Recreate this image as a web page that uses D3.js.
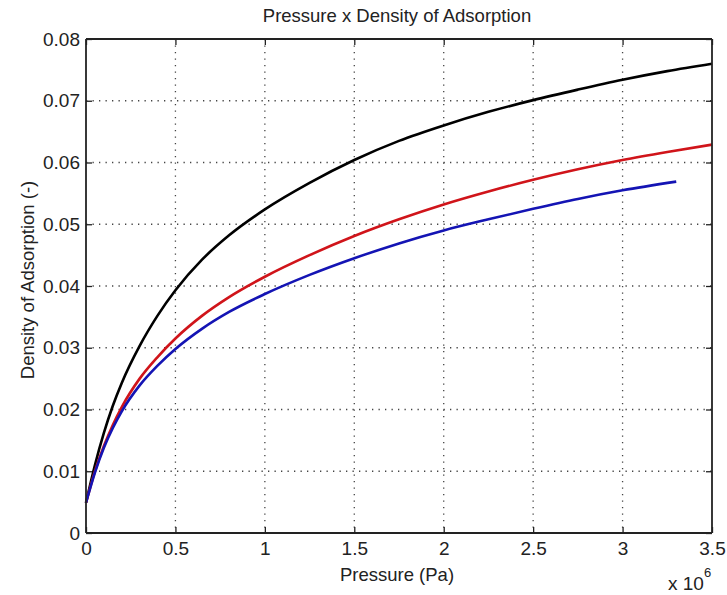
<!DOCTYPE html>
<html><head><meta charset="utf-8">
<script src="https://cdn.jsdelivr.net/npm/d3@7"></script>
<style>body{margin:0;background:#fff;} text{font-family:"Liberation Sans",Arial,sans-serif;fill:#222;}</style>
</head><body><svg id="c" width="727" height="595"></svg>
<script>
const xTicks = [0,0.5,1,1.5,2,2.5,3,3.5];
const yTicks = [0,0.01,0.02,0.03,0.04,0.05,0.06,0.07,0.08];
const pBlack = [0,0.05,0.1,0.15,0.2,0.3,0.4,0.5,0.65,0.8,1.0,1.25,1.5,1.75,2.0,2.25,2.5,2.75,3.0,3.25,3.5];
const vBlack = [0.0049,0.0110,0.0162,0.0206,0.0243,0.0303,0.0352,0.0393,0.0443,0.0482,0.0524,0.0567,0.0604,0.0635,0.0660,0.0682,0.0701,0.0718,0.0734,0.0748,0.0760];
const pRed = [0,0.05,0.1,0.15,0.2,0.3,0.4,0.5,0.65,0.8,1.0,1.25,1.5,1.75,2.0,2.25,2.5,2.75,3.0,3.25,3.5];
const vRed = [0.0049,0.0100,0.0141,0.0175,0.0204,0.0250,0.0285,0.0315,0.0352,0.0382,0.0415,0.0450,0.0481,0.0508,0.0532,0.0553,0.0572,0.0589,0.0604,0.0617,0.0629];
const pBlue = [0,0.05,0.1,0.15,0.2,0.3,0.4,0.5,0.65,0.8,1.0,1.25,1.5,1.75,2.0,2.25,2.5,2.75,3.0,3.3];
const vBlue = [0.0049,0.0098,0.0138,0.0170,0.0197,0.0239,0.0271,0.0298,0.0331,0.0358,0.0387,0.0418,0.0445,0.0469,0.0490,0.0508,0.0525,0.0541,0.0555,0.0569];

const svg = d3.select("#c");
const L=86,R=712,T=39,B=533;
const x = d3.scaleLinear().domain([0,3.5]).range([L,R]);
const y = d3.scaleLinear().domain([0,0.08]).range([B,T]);

// grid
const g = svg.append("g");
g.selectAll(".gx").data(xTicks.slice(1,-1)).enter().append("line")
 .attr("x1",d=>x(d)).attr("x2",d=>x(d)).attr("y1",T).attr("y2",B)
 .attr("stroke","#444").attr("stroke-width",1.3).attr("stroke-dasharray","1.3,5.2");
g.selectAll(".gy").data(yTicks.slice(1,-1)).enter().append("line")
 .attr("y1",d=>y(d)).attr("y2",d=>y(d)).attr("x1",L).attr("x2",R)
 .attr("stroke","#444").attr("stroke-width",1.3).attr("stroke-dasharray","1.3,5.2");

// curves
const line = d3.line().x(d=>x(d[0])).y(d=>y(d[1])).curve(d3.curveMonotoneX);
const series = [[pBlack,vBlack,"#000"],[pRed,vRed,"#d0141a"],[pBlue,vBlue,"#1414b4"]];
series.forEach(([p,v,c])=>{
  svg.append("path").datum(p.map((d,i)=>[d,v[i]])).attr("d",line)
   .attr("fill","none").attr("stroke",c).attr("stroke-width",2.6);
});

// axes
const ax = svg.append("g").attr("transform",`translate(0,${B})`)
 .call(d3.axisBottom(x).tickValues(xTicks).tickSize(-6).tickPadding(9).tickFormat(d3.format("")));
const ay = svg.append("g").attr("transform",`translate(${L},0)`)
 .call(d3.axisLeft(y).tickValues(yTicks).tickSize(-6).tickPadding(6).tickFormat(d=>d===0?"0":d3.format(".2f")(d)));
const at = svg.append("g").attr("transform",`translate(0,${T})`)
 .call(d3.axisTop(x).tickValues(xTicks).tickSize(-6).tickFormat(""));
const ar = svg.append("g").attr("transform",`translate(${R},0)`)
 .call(d3.axisRight(y).tickValues(yTicks).tickSize(-6).tickFormat(""));
[ax,ay,at,ar].forEach(a=>{
  a.select(".domain").attr("stroke","#222").attr("stroke-width",1.8);
  a.selectAll(".tick line").attr("stroke","#222").attr("stroke-width",1.3);
  a.selectAll("text").style("font-size","19px").attr("fill","#222");
});
ax.selectAll(".domain").attr("d",`M${L},0H${R}`);
ay.selectAll(".domain").attr("d",`M0,${B}V${T}`);
at.selectAll(".domain").attr("d",`M${L},0H${R}`);
ar.selectAll(".domain").attr("d",`M0,${B}V${T}`);

svg.append("text").attr("x",397).attr("y",22).attr("text-anchor","middle").style("font-size","18.5px").text("Pressure x Density of Adsorption");
svg.append("text").attr("x",397).attr("y",581).attr("text-anchor","middle").style("font-size","18.5px").text("Pressure (Pa)");
svg.append("text").attr("transform",`translate(34,280) rotate(-90)`).attr("text-anchor","middle").style("font-size","18.5px").text("Density of Adsorption (-)");
const ex = svg.append("text").attr("x",668).attr("y",590).style("font-size","19px").text("x 10");
ex.append("tspan").attr("dy",-13).style("font-size","13px").text("6");
</script></body></html>
